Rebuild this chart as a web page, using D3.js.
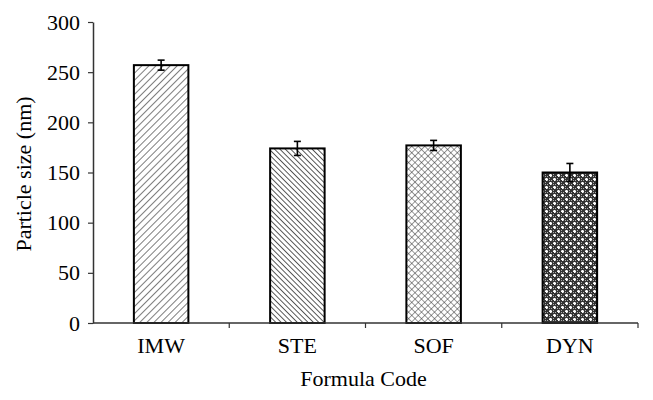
<!DOCTYPE html>
<html>
<head>
<meta charset="utf-8">
<script src="https://cdn.jsdelivr.net/npm/d3@7"></script>
<style>
  body { margin: 0; background: #fff; }
  text { font-family: "Liberation Serif", "DejaVu Serif", serif; fill: #000; }
</style>
</head>
<body>
<svg width="653" height="400"></svg>
<script>
var categories = ["IMW", "STE", "SOF", "DYN"];
var sizes = [257, 174, 177, 150];
var errors = [5, 7, 5, 9];
var yTicks = [0, 50, 100, 150, 200, 250, 300];

var svg = d3.select("svg"),
    margin = {left: 93, right: 15, top: 22, bottom: 77},
    width = 653 - margin.left - margin.right,
    height = 400 - margin.top - margin.bottom;

var defs = svg.append("defs");

// IMW: forward diagonal
var p1 = defs.append("pattern").attr("id", "p0").attr("patternUnits", "userSpaceOnUse")
    .attr("width", 5).attr("height", 5).attr("patternTransform", "rotate(45)");
p1.append("rect").attr("width", 5).attr("height", 5).attr("fill", "#fff");
p1.append("line").attr("x1", 0).attr("y1", 0).attr("x2", 0).attr("y2", 5)
    .attr("stroke", "#111").attr("stroke-width", 1.1);

// STE: back diagonal, denser
var p2 = defs.append("pattern").attr("id", "p1").attr("patternUnits", "userSpaceOnUse")
    .attr("width", 3.8).attr("height", 3.8).attr("patternTransform", "rotate(-45)");
p2.append("rect").attr("width", 3.8).attr("height", 3.8).attr("fill", "#fff");
p2.append("line").attr("x1", 0).attr("y1", 0).attr("x2", 0).attr("y2", 3.8)
    .attr("stroke", "#000").attr("stroke-width", 1.3);

// SOF: diagonal crosshatch
var p3 = defs.append("pattern").attr("id", "p2").attr("patternUnits", "userSpaceOnUse")
    .attr("width", 4.6).attr("height", 4.6).attr("patternTransform", "rotate(45)");
p3.append("rect").attr("width", 4.6).attr("height", 4.6).attr("fill", "#fff");
p3.append("line").attr("x1", 0).attr("y1", 0).attr("x2", 0).attr("y2", 4.6)
    .attr("stroke", "#333").attr("stroke-width", 1);
p3.append("line").attr("x1", 0).attr("y1", 0).attr("x2", 4.6).attr("y2", 0)
    .attr("stroke", "#333").attr("stroke-width", 1);

// DYN: dark checker with white dots
var p4 = defs.append("pattern").attr("id", "p3").attr("patternUnits", "userSpaceOnUse")
    .attr("width", 8).attr("height", 8);
p4.append("rect").attr("width", 8).attr("height", 8).attr("fill", "#333");
[[0,0],[2,2],[4,0],[6,2],[0,4],[2,6],[4,4],[6,6],[2,0],[6,4],[0,6],[4,2]].forEach(function(c) {
  p4.append("rect").attr("x", c[0]).attr("y", c[1]).attr("width", 1).attr("height", 1).attr("fill", "#aaa");
});
p4.append("rect").attr("x", 1).attr("y", 0).attr("width", 1).attr("height", 3).attr("fill", "#fff");
p4.append("rect").attr("x", 0).attr("y", 1).attr("width", 3).attr("height", 1).attr("fill", "#fff");
p4.append("rect").attr("x", 5).attr("y", 4).attr("width", 1).attr("height", 3).attr("fill", "#fff");
p4.append("rect").attr("x", 4).attr("y", 5).attr("width", 3).attr("height", 1).attr("fill", "#fff");

var g = svg.append("g").attr("transform", "translate(" + margin.left + "," + margin.top + ")");

var x = d3.scaleBand().domain(categories).range([0, width]).paddingInner(0.6).paddingOuter(0.3);
var xb = d3.scaleBand().domain(categories).range([0, width]);
var y = d3.scaleLinear().domain([0, 300]).range([height, 0]);

// bars
g.selectAll(".bar").data(categories).enter().append("rect")
    .attr("x", function(d) { return x(d); })
    .attr("y", function(d, i) { return y(sizes[i]); })
    .attr("width", x.bandwidth())
    .attr("height", function(d, i) { return height - y(sizes[i]); })
    .attr("fill", function(d, i) { return "url(#p" + i + ")"; })
    .attr("stroke", "#000").attr("stroke-width", 2);

// error bars
var eb = g.selectAll(".err").data(categories).enter().append("g")
    .attr("transform", function(d) { return "translate(" + (x(d) + x.bandwidth() / 2) + ",0)"; });
eb.append("line").attr("y1", function(d, i) { return y(sizes[i] + errors[i]); })
    .attr("y2", function(d, i) { return y(sizes[i] - errors[i]); })
    .attr("stroke", "#000").attr("stroke-width", 1.6);
eb.append("line").attr("x1", -3.5).attr("x2", 3.5)
    .attr("y1", function(d, i) { return y(sizes[i] + errors[i]); })
    .attr("y2", function(d, i) { return y(sizes[i] + errors[i]); })
    .attr("stroke", "#000").attr("stroke-width", 1.6);
eb.append("line").attr("x1", -3.5).attr("x2", 3.5)
    .attr("y1", function(d, i) { return y(sizes[i] - errors[i]); })
    .attr("y2", function(d, i) { return y(sizes[i] - errors[i]); })
    .attr("stroke", "#000").attr("stroke-width", 1.6);

// y axis
var yAxis = g.append("g").call(d3.axisLeft(y).tickValues(yTicks).tickSize(5).tickSizeOuter(0).tickPadding(8));
yAxis.attr("font-family", null).attr("font-size", null);
yAxis.select(".domain").attr("stroke", "#333").attr("stroke-width", 1.5);
yAxis.selectAll(".tick line").attr("stroke", "#333").attr("stroke-width", 1.2);
yAxis.selectAll("text").style("font-size", "22px");

// x axis
var xAxis = g.append("g").attr("transform", "translate(0," + height + ")");
xAxis.append("line").attr("x1", 0).attr("x2", width).attr("stroke", "#333").attr("stroke-width", 1.5);
xAxis.selectAll(".sep").data(categories).enter().append("line")
    .attr("x1", function(d) { return xb(d) + xb.bandwidth(); })
    .attr("x2", function(d) { return xb(d) + xb.bandwidth(); })
    .attr("y1", 0).attr("y2", 5)
    .attr("stroke", "#333").attr("stroke-width", 1.2);
xAxis.selectAll(".lab").data(categories).enter().append("text")
    .attr("x", function(d) { return xb(d) + xb.bandwidth() / 2; })
    .attr("y", 30)
    .attr("text-anchor", "middle")
    .style("font-size", "22px")
    .text(function(d) { return d; });

// titles
svg.append("text").attr("x", margin.left + width / 2 - 2).attr("y", 386)
    .attr("text-anchor", "middle").style("font-size", "22px").text("Formula Code");
svg.append("text").attr("transform", "translate(31," + 174 + ") rotate(-90)")
    .attr("text-anchor", "middle").style("font-size", "22px").text("Particle size (nm)");
</script>
</body>
</html>
